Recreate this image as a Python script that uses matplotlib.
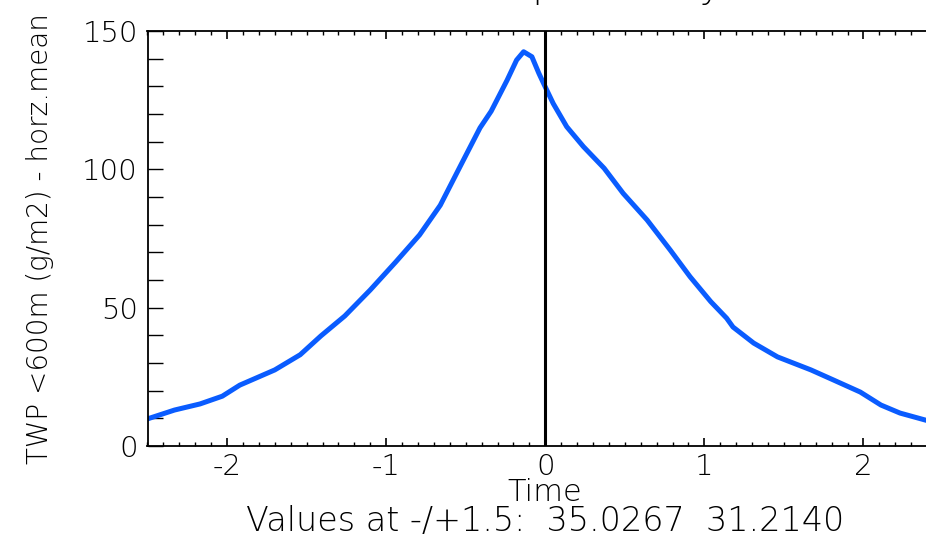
import numpy as np
import matplotlib.pyplot as plt
from matplotlib.ticker import MultipleLocator

# curve
time = [-2.5, -2.33, -2.17, -2.03, -1.92, -1.70, -1.54, -1.41, -1.26, -1.10,
        -0.94, -0.79, -0.66, -0.53, -0.41, -0.34, -0.24, -0.18, -0.136, -0.084,
        -0.04, -0.01, 0.05, 0.135, 0.24, 0.37, 0.49, 0.64, 0.786, 0.91,
        1.04, 1.14, 1.18, 1.31, 1.46, 1.67, 1.81, 1.98, 2.11, 2.23,
        2.40, 2.5]
twp = [9.8, 13.0, 15.2, 18.0, 22.0, 27.5, 33.0, 39.8, 47.0, 56.4,
       66.5, 76.3, 87.0, 101.6, 115.0, 121.0, 132.2, 139.5, 142.5, 140.7,
       134.7, 131.0, 123.8, 115.4, 108.2, 100.4, 91.3, 81.7, 70.8, 61.2,
       52.2, 46.2, 43.0, 37.2, 32.2, 27.5, 23.9, 19.5, 14.8, 11.9,
       9.2, 8.0]

title = "Composite days"
xlabel = "Time"
ylabel = "TWP <600m (g/m2) - horz.mean"
note = "Values at -/+1.5:  35.0267  31.2140"

plt.rcParams["font.family"] = ["DejaVu Sans"]
plt.rcParams["font.weight"] = "ultralight"
plt.rcParams["axes.labelweight"] = "ultralight"
plt.rcParams["axes.unicode_minus"] = False

fig = plt.figure(figsize=(9.26, 5.55), dpi=100)
ax = fig.add_axes([147.5 / 926, 1 - 446 / 555, (943 - 147.5) / 926, (446 - 31) / 555])

ax.plot(time, twp, color="#0a5cff", linewidth=3.6, solid_capstyle="round",
        solid_joinstyle="round")
ax.axvline(0, color="black", linewidth=2.2)

ax.set_xlim(-2.5, 2.5)
ax.set_ylim(0, 150)
ax.xaxis.set_major_locator(MultipleLocator(1))
ax.xaxis.set_minor_locator(MultipleLocator(0.1))
ax.yaxis.set_major_locator(MultipleLocator(50))
ax.yaxis.set_minor_locator(MultipleLocator(10))

ax.tick_params(axis="x", which="major", direction="in", length=6, width=1.2,
               top=True, labelsize=21, pad=5)
ax.tick_params(axis="x", which="minor", direction="in", length=3, width=1.0, top=True)
ax.tick_params(axis="y", which="both", direction="in", length=11, width=1.0,
               right=True, labelsize=21, pad=7)
for s in ax.spines.values():
    s.set_linewidth(1.3)

ax.set_xlabel(xlabel, fontsize=22, labelpad=-2)
ax.set_ylabel(ylabel, fontsize=20, labelpad=20)
fig.text(545 / 926, 1 - 522 / 555, note, fontsize=24, ha="center", va="center")
fig.text(740 / 926, 1.0 + 0.004, title, fontsize=26, ha="right", va="baseline")

fig.savefig("out.png", dpi=100)
